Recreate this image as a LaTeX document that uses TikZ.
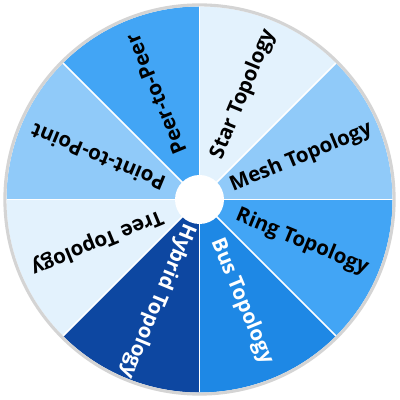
\documentclass[tikz,border=0pt]{standalone}
\usepackage{fontspec}
\setmainfont{Open Sans}
\definecolor{cA}{HTML}{E3F2FD}
\definecolor{cB}{HTML}{90CAF9}
\definecolor{cC}{HTML}{42A5F5}
\definecolor{cD}{HTML}{1E88E5}
\definecolor{cE}{HTML}{0D47A1}
\definecolor{rimgray}{HTML}{D4D4D4}
\tikzset{
  wedgelabel/.style={font=\bfseries\fontsize{14.6}{16}\selectfont, inner sep=0pt, text=black},
  darklabel/.style={wedgelabel, text=white}
}
\begin{document}
\begin{tikzpicture}[x=0.025cm,y=0.025cm]
\useasboundingbox (0,0) rectangle (400,400);
\fill[white] (0,0) rectangle (400,400);
\coordinate (O) at (199.5,200.5);
% wedges
\foreach \a/\c in {45/cA, 0/cB, -45/cC, -90/cD, -135/cE, 180/cA, 135/cB, 90/cC}{
  \fill[\c] (O) -- ++(\a:193) arc[start angle=\a, end angle=\a+45, radius=193] -- cycle;
}
% separators
\foreach \a in {0,45,...,315}{
  \draw[white, line width=1.2pt] (O) -- ++(\a:193);
}
% rim
\draw[rimgray, line width=2.2pt] (O) circle[radius=194.6];
% hub
\fill[white] (O) circle[radius=24.5];
% labels
\node[wedgelabel, rotate=67.5] (star) at ([shift={(67.5:114)}]O) {Star Topology};
\node[wedgelabel, rotate=22.5] (mesh) at ([shift={(22.5:110)}]O) {Mesh Topology};
\node[wedgelabel, rotate=-22.5] (ring) at ([shift={(-22.5:111)}]O) {Ring Topology};
\node[darklabel, rotate=-67.5] (bus) at ([shift={(-67.5:110)}]O) {Bus Topology};
\node[darklabel, rotate=-112.5] (hybrid) at ([shift={(-112.5:110)}]O) {Hybrid Topology};
\node[wedgelabel, rotate=-157.5] (tree) at ([shift={(-157.5:111)}]O) {Tree Topology};
\node[wedgelabel, rotate=157.5] (p2p) at ([shift={(157.5:110)}]O) {Point-to-Point};
\node[wedgelabel, rotate=112.5] (peer) at ([shift={(112.5:114)}]O) {Peer-to-Peer};
\end{tikzpicture}
\end{document}
